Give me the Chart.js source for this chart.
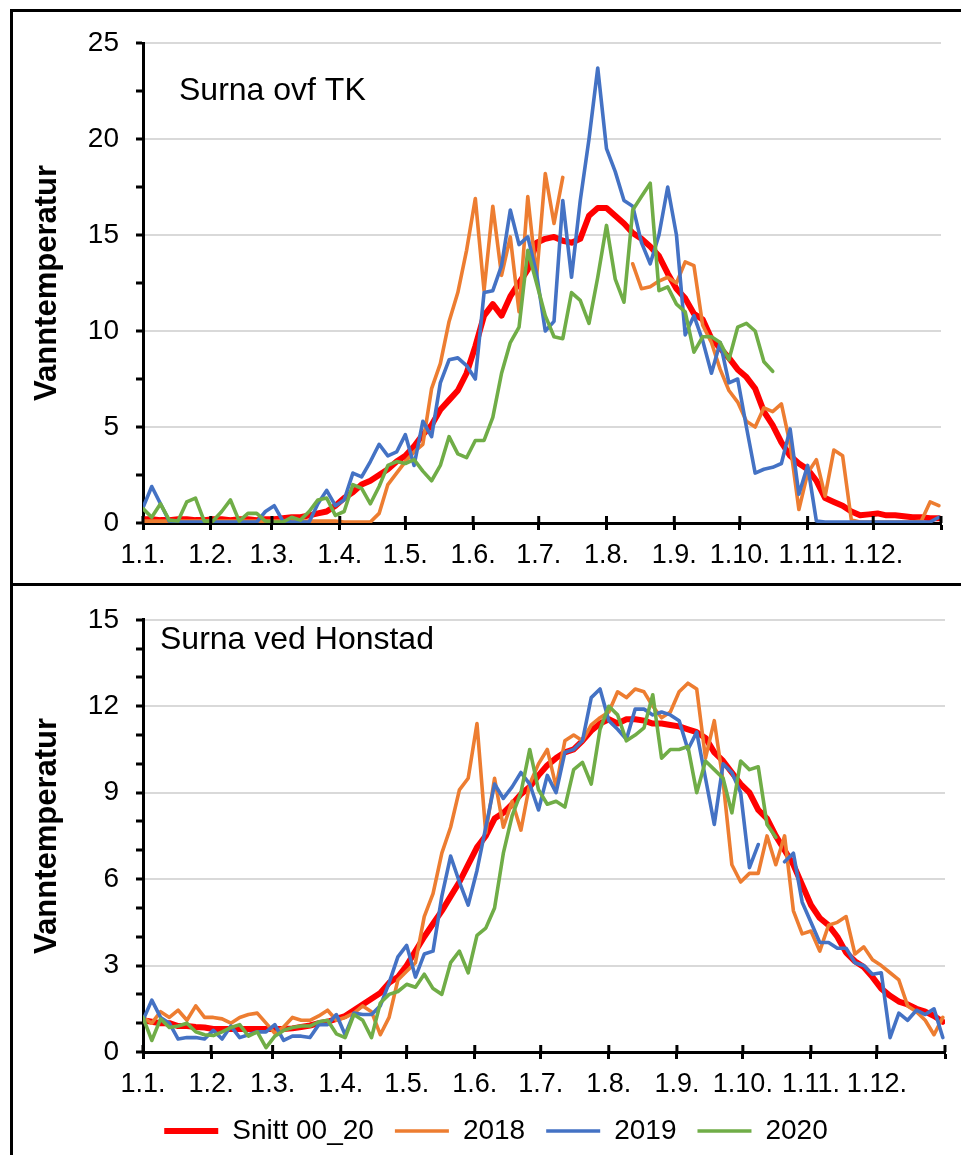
<!DOCTYPE html>
<html>
<head>
<meta charset="utf-8">
<script src="https://cdn.jsdelivr.net/npm/chart.js@4.4.1/dist/chart.umd.min.js"></script>
<style>
    html, body { margin: 0; padding: 0; background: #fff; }
    body { width: 961px; height: 1155px; position: relative; overflow: hidden; }
    canvas { position: absolute; left: 0; }
    #topChart { top: 0; }
    #bottomChart { top: 586px; }
    .frame { position: absolute; left: 10px; top: 9px; width: 970px; height: 1170px; border-left: 3px solid #000; border-top: 3px solid #000; pointer-events: none; }
    .divider { position: absolute; left: 10px; top: 583px; width: 960px; height: 3px; background: #000; }
</style>
</head>
<body>
<canvas id="topChart" width="961" height="583"></canvas>
<canvas id="bottomChart" width="961" height="569"></canvas>
<div class="frame"></div>
<div class="divider"></div>
<script>
// --- DATA ---
// day of year (0 = 1 Jan), one sample every 4th day
const days = [0,4,8,12,16,20,24,28,32,36,40,44,48,52,56,60,64,68,72,76,80,84,88,92,96,100,104,108,112,116,
    120,124,128,132,136,140,144,148,152,156,160,164,168,172,176,180,184,188,192,196,200,204,208,212,216,220,
    224,228,232,236,240,244,248,252,256,260,264,268,272,276,280,284,288,292,296,300,304,308,312,316,320,324,
    328,332,336,340,344,348,352,356,360,364];

const monthStarts = [0,31,59,90,120,151,181,212,243,273,304,334,365];
const monthLabels = ['1.1.','1.2.','1.3.','1.4.','1.5.','1.6.','1.7.','1.8.','1.9.','1.10.','1.11.','1.12.',''];

const seriesNames = ['Snitt 00_20','2018','2019','2020'];
const seriesColors = ['#ff0000','#ed7d31','#4472c4','#70ad47'];

// Surna ovf TK
const topYTicks = [0,2.5,5,7.5,10,12.5,15,17.5,20,22.5,25];
const topSnitt = [0.2,0.2,0.15,0.15,0.2,0.2,0.15,0.15,0.2,0.2,
    0.15,0.2,0.2,0.15,0.2,0.2,0.25,0.3,0.3,0.4,
    0.5,0.6,0.9,1.3,1.6,2.0,2.2,2.5,2.8,3.2,
    3.5,4.0,4.6,5.1,5.9,6.4,6.9,7.8,9.2,10.8,
    11.4,10.8,11.8,12.5,13.2,14.6,14.8,14.9,14.7,14.6,
    14.8,16.0,16.4,16.4,16.0,15.6,15.1,14.8,14.4,13.9,
    13.0,12.2,11.7,10.9,10.6,9.6,9.1,8.6,8.0,7.6,
    7.0,5.8,5.1,4.2,3.5,3.1,2.8,2.2,1.3,1.1,
    0.9,0.6,0.4,0.45,0.5,0.4,0.4,0.35,0.3,0.3,
    0.25,0.25];
const top2018 = [0.1,0.1,0.1,0.1,0.1,0.1,0.1,0.1,0.1,0.1,
    0.1,0.1,0.1,0.1,0.1,0.1,0.1,0.1,0.1,0.1,
    0.1,0.1,0.1,0.05,0.05,0.05,0.05,0.5,2.0,2.6,
    3.2,3.7,4.1,7.0,8.3,10.5,12.0,14.2,16.9,12.1,
    16.5,12.9,14.9,11.0,17.0,12.8,18.2,15.6,18.0,null,
    null,null,null,null,null,null,13.5,12.2,12.3,12.6,
    12.8,12.5,13.6,13.4,10.3,9.4,8.0,6.9,6.3,5.3,
    5.0,6.0,5.8,6.2,4.1,0.7,2.6,3.3,1.4,3.8,
    3.5,0.15,0.05,0.05,0.05,0.05,0.05,0.05,0.05,0.1,
    1.1,0.9];
const top2019 = [0.8,1.9,1.0,0.1,0.05,0.05,0.05,0.05,0.05,0.05,
    0.05,0.05,0.05,0.05,0.6,0.9,0.1,0.05,0.05,0.05,
    1.0,1.7,0.9,1.2,2.6,2.4,3.2,4.1,3.5,3.7,
    4.6,3.0,5.3,4.5,7.3,8.5,8.6,8.2,7.5,12.0,
    12.1,13.4,16.3,14.5,14.9,13.0,10.0,10.5,16.8,12.8,
    16.8,20.0,23.7,19.5,18.3,16.8,16.5,14.6,13.5,15.0,
    17.5,15.0,9.8,10.8,9.5,7.8,9.4,7.3,7.5,5.0,
    2.6,2.8,2.9,3.1,4.9,1.5,3.0,0.1,0.05,0.05,
    0.05,0.05,0.05,0.05,0.05,0.05,0.05,0.05,0.05,0.05,
    0.05,0.3];
const top2020 = [0.75,0.3,1.0,0.15,0.1,1.1,1.3,0.1,0.1,0.6,
    1.2,0.1,0.5,0.5,0.1,0.05,0.05,0.3,0.15,0.6,
    1.2,1.3,0.4,0.6,2.0,1.8,1.0,1.9,3.0,3.2,
    3.1,3.3,2.7,2.2,3.0,4.5,3.6,3.4,4.3,4.3,
    5.5,7.8,9.4,10.2,14.2,12.5,10.8,9.7,9.6,12.0,
    11.6,10.4,12.8,15.5,12.7,11.5,16.3,17.0,17.7,12.1,
    12.3,11.4,11.0,8.9,9.7,9.7,9.4,8.5,10.2,10.4,
    10.0,8.4,7.9,null,null,null,null,null,null,null,
    null,null,null,null,null,null,null,null,null,null,
    null,null];

// Surna ved Honstad
const bottomYTicks = [0,1,2,3,4,5,6,7,8,9,10,11,12,13,14,15];
const botSnitt = [1.1,1.05,1.0,1.0,0.9,0.9,0.87,0.85,0.8,0.8,
    0.8,0.8,0.8,0.8,0.8,0.8,0.8,0.82,0.87,0.92,
    1.0,1.05,1.15,1.25,1.45,1.65,1.85,2.05,2.4,2.6,
    3.0,3.5,4.0,4.45,4.9,5.4,5.9,6.5,7.1,7.5,
    8.1,8.3,8.6,8.95,9.2,9.6,9.95,10.2,10.4,10.5,
    10.8,11.15,11.4,11.55,11.4,11.55,11.55,11.5,11.4,11.4,
    11.35,11.3,11.2,11.1,10.9,10.4,10.1,9.7,9.3,9.0,
    8.4,8.1,7.5,7.0,6.5,5.8,5.1,4.65,4.4,4.0,
    3.45,3.15,2.95,2.6,2.2,1.95,1.75,1.65,1.5,1.4,
    1.25,1.05];
const bot2018 = [1.2,1.0,1.4,1.2,1.45,1.1,1.6,1.2,1.2,1.15,
    1.0,1.2,1.3,1.35,1.0,0.65,0.87,1.2,1.1,1.1,
    1.25,1.45,1.1,1.2,1.35,1.6,1.4,0.6,1.2,2.5,
    2.8,3.1,4.7,5.5,6.9,7.8,9.1,9.5,11.4,7.6,
    9.5,7.8,8.7,7.7,9.3,10.0,10.5,9.2,10.8,11.0,
    10.8,11.35,11.6,11.8,12.5,12.3,12.6,12.5,12.0,11.6,
    11.8,12.5,12.8,12.6,10.2,11.5,9.4,6.5,5.9,6.2,
    6.2,7.5,6.5,7.5,4.9,4.1,4.2,3.5,4.4,4.5,
    4.7,3.4,3.65,3.2,3.0,2.75,2.5,1.6,1.4,1.1,
    0.6,1.2];
const bot2019 = [1.1,1.8,1.2,1.0,0.45,0.5,0.5,0.45,0.75,0.45,
    0.9,0.5,0.6,0.7,0.7,0.95,0.4,0.55,0.55,0.5,
    0.95,0.95,1.3,0.6,1.35,1.3,1.3,1.6,2.4,3.3,
    3.7,2.6,3.4,3.5,5.4,6.8,5.9,5.1,6.3,7.8,
    9.3,8.8,9.2,9.7,9.3,8.4,9.6,9.0,10.4,10.5,
    10.8,12.3,12.6,11.5,11.2,10.85,11.9,11.9,11.7,11.8,
    11.7,11.5,10.5,11.1,9.5,7.9,10.0,9.7,9.0,6.4,
    7.2,null,null,6.6,6.9,5.2,4.5,3.8,3.8,3.6,
    3.6,3.1,3.0,2.7,2.75,0.5,1.35,1.1,1.45,1.3,
    1.5,0.5];
const bot2020 = [1.2,0.4,1.15,0.85,0.9,1.0,0.7,0.6,0.57,0.7,
    0.85,0.95,0.55,0.7,0.15,0.55,0.75,0.85,0.9,0.9,
    1.05,1.1,0.63,0.5,1.3,1.1,0.5,1.7,2.0,2.1,
    2.35,2.25,2.7,2.2,2.0,3.1,3.5,2.75,4.05,4.3,
    5.0,6.9,8.2,9.0,10.5,9.1,8.6,8.7,8.5,9.8,
    10.05,9.3,11.2,12.0,11.7,10.8,11.0,11.25,12.4,10.2,
    10.5,10.5,10.6,9.0,10.1,9.8,9.5,8.3,10.1,9.8,
    9.9,7.9,7.45,null,null,null,null,null,null,null,
    null,null,null,null,null,null,null,null,null,null,
    null,null];

const FONT = '"Liberation Sans", Arial, Helvetica, sans-serif';

document.addEventListener('DOMContentLoaded', () => {
    Chart.defaults.font.family = FONT;
    Chart.defaults.color = '#000';

    // --- PLUGINS ---
    // station name written inside the plot area
    const panelLabel = {
        id: 'panelLabel',
        afterDraw(chart, args, opts) {
            const { ctx, chartArea } = chart;
            ctx.save();
            ctx.font = `${opts.size}px ${FONT}`;
            ctx.fillStyle = '#000';
            ctx.textBaseline = 'alphabetic';
            ctx.fillText(opts.text, chartArea.left + opts.dx, chartArea.top + opts.dy);
            ctx.restore();
        }
    };

    // Excel style "cross" ticks: the part of the x tick mark that sits above the axis
    const crossTicks = {
        id: 'crossTicks',
        afterDraw(chart) {
            const { ctx, chartArea } = chart;
            const xScale = chart.scales.x;
            ctx.save();
            ctx.strokeStyle = '#000';
            ctx.lineWidth = 3;
            ctx.beginPath();
            xScale.ticks.forEach(t => {
                const px = xScale.getPixelForValue(t.value);
                ctx.moveTo(px, chartArea.bottom - 7);
                ctx.lineTo(px, chartArea.bottom);
            });
            ctx.stroke();
            ctx.restore();
        }
    };

    function makeDatasets(seriesList) {
        return seriesList.map((vals, k) => ({
            label: seriesNames[k],
            data: days.map((d, i) => ({ x: d, y: vals[i] })),
            borderColor: seriesColors[k],
            backgroundColor: seriesColors[k],
            borderWidth: k === 0 ? 6 : 3.6,
            pointBorderWidth: k === 0 ? 6 : 3.4,
            pointRadius: 0,
            tension: 0,
            borderJoinStyle: 'round',
            borderCapStyle: 'round',
            spanGaps: false,
            order: 4 - k // later years on top, like the original
        }));
    }

    function makeOptions({ yTicks, yMax, labelEvery, padTop, padRight, xHeight, showLegend, panel }) {
        return {
            responsive: false,
            animation: false,
            events: [],
            layout: { padding: { left: 47, right: padRight, top: padTop, bottom: 0 } },
            scales: {
                x: {
                    type: 'linear',
                    min: 0,
                    max: 365,
                    afterBuildTicks: s => { s.ticks = monthStarts.map(v => ({ value: v })); },
                    afterFit: s => { s.height = xHeight; },
                    border: { color: '#000', width: 3 },
                    grid: { drawOnChartArea: false, tickColor: '#000', tickWidth: 3, tickLength: 7 },
                    ticks: {
                        autoSkip: false, maxRotation: 0, padding: 9,
                        font: { size: 27 }, color: '#000',
                        callback: (value) => monthLabels[monthStarts.indexOf(value)]
                    }
                },
                y: {
                    min: 0,
                    max: yMax,
                    afterBuildTicks: s => { s.ticks = yTicks.map(v => ({ value: v })); },
                    afterFit: s => { s.width = 96; },
                    border: { color: '#000', width: 3 },
                    grid: {
                        color: c => (c.tick && c.tick.value % labelEvery === 0) ? '#d9d9d9' : 'rgba(0,0,0,0)',
                        lineWidth: 2, tickColor: '#000', tickWidth: 3, tickLength: 7
                    },
                    ticks: {
                        autoSkip: false, padding: 17, font: { size: 28 }, color: '#000',
                        callback: v => (v % labelEvery === 0 ? String(v) : '')
                    },
                    title: {
                        display: true, text: 'Vanntemperatur', color: '#000',
                        font: { size: 31, weight: 'bold' }, padding: { top: -18, bottom: 0 }
                    }
                }
            },
            plugins: {
                tooltip: { enabled: false },
                legend: {
                    display: showLegend,
                    position: 'bottom',
                    labels: {
                        font: { size: 28 }, color: '#000',
                        usePointStyle: true, pointStyle: 'line', pointStyleWidth: 54, boxWidth: 54,
                        padding: 21,
                        sort: (a, b) => a.datasetIndex - b.datasetIndex
                    }
                },
                panelLabel: panel
            }
        };
    }

    // --- CHART INITIALIZATION ---
    new Chart(document.getElementById('topChart').getContext('2d'), {
        type: 'line',
        data: { datasets: makeDatasets([topSnitt, top2018, top2019, top2020]) },
        options: makeOptions({
            yTicks: topYTicks, yMax: 25, labelEvery: 5, padTop: 43, padRight: 20, xHeight: 60,
            showLegend: false, panel: { text: 'Surna ovf TK', size: 32, dx: 36, dy: 57 }
        }),
        plugins: [panelLabel, crossTicks]
    });

    new Chart(document.getElementById('bottomChart').getContext('2d'), {
        type: 'line',
        data: { datasets: makeDatasets([botSnitt, bot2018, bot2019, bot2020]) },
        options: makeOptions({
            yTicks: bottomYTicks, yMax: 15, labelEvery: 3, padTop: 31, padRight: 16, xHeight: 44,
            showLegend: true, panel: { text: 'Surna ved Honstad', size: 32, dx: 17, dy: 29 }
        }),
        plugins: [panelLabel, crossTicks]
    });
});
</script>
</body>
</html>
